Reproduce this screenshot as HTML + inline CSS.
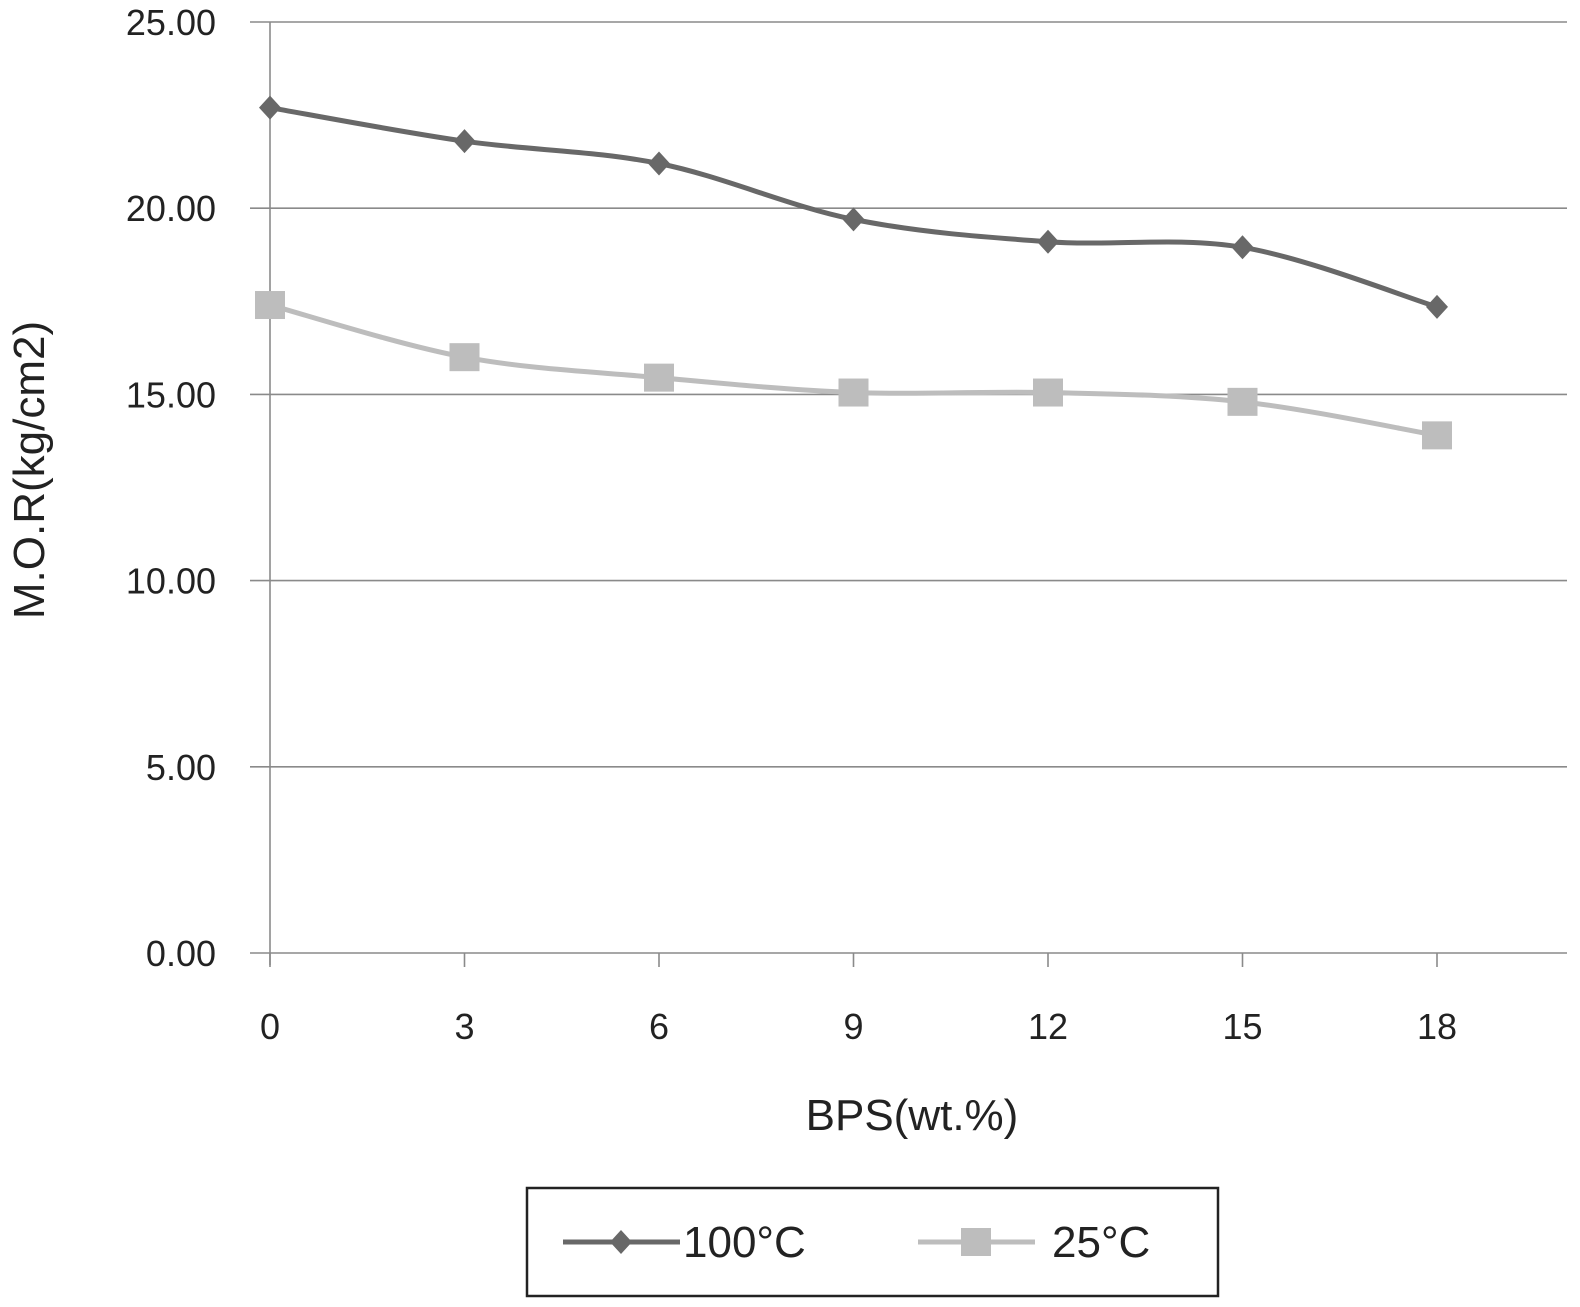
<!DOCTYPE html>
<html><head><meta charset="utf-8"><style>
body{margin:0;background:#fff;}
svg{display:block;font-family:"Liberation Sans",Arial,sans-serif;}
</style></head><body>
<svg id="chart" width="1580" height="1307" viewBox="0 0 1580 1307"></svg>
<script>
const categories=[0,3,6,9,12,15,18];
const series100=[22.7,21.8,21.2,19.7,19.1,18.95,17.35];
const series25=[17.4,16.0,15.45,15.05,15.05,14.8,13.9];
const yTicks=[0,5,10,15,20,25];
const yTickLabels=["0.00","5.00","10.00","15.00","20.00","25.00"];

const NS="http://www.w3.org/2000/svg";
const svg=document.getElementById('chart');
const X0=270,XSTEP=194.5,Y0=953,YTOP=22,YMAX=25,XRIGHT=1567;
const xs=i=>X0+i*XSTEP;
const ys=v=>Y0-(v/YMAX)*(Y0-YTOP);
function mk(t,a,p){const e=document.createElementNS(NS,t);for(const k in a)e.setAttribute(k,a[k]);(p||svg).appendChild(e);return e;}

const grid=mk('g',{});


yTicks.forEach((v,i)=>{
  const l=mk('line',{x1:250,x2:XRIGHT,y1:ys(v),y2:ys(v),stroke:'#8a8a8a','stroke-width':1.6},grid);
  
  
  const t=mk('text',{x:216,y:ys(v)+13,'text-anchor':'end','font-size':36,fill:'#222'});
  t.textContent=yTickLabels[i];
  
  
});
const ax=mk('line',{x1:270,x2:270,y1:YTOP,y2:Y0+12,stroke:'#8a8a8a','stroke-width':1.6});


categories.forEach((c,i)=>{
  const tk=mk('line',{x1:xs(i),x2:xs(i),y1:Y0,y2:Y0+14,stroke:'#8a8a8a','stroke-width':1.6});
  
  
  const t=mk('text',{x:xs(i),y:1039,'text-anchor':'middle','font-size':36,fill:'#222'});
  t.textContent=c;
  
  
});
const xt=mk('text',{x:912,y:1130,'text-anchor':'middle','font-size':44,fill:'#222'});
xt.textContent='BPS(wt.%)';


const yt=mk('text',{x:0,y:0,'text-anchor':'middle','font-size':44,fill:'#222',transform:'translate(44,470) rotate(-90)'});
yt.textContent='M.O.R(kg/cm2)';



function smooth(pts){
  let d='M'+pts[0][0]+','+pts[0][1];
  for(let i=0;i<pts.length-1;i++){
    const p0=pts[i-1]||pts[i],p1=pts[i],p2=pts[i+1],p3=pts[i+2]||p2,t=1/6;
    d+=' C'+(p1[0]+(p2[0]-p0[0])*t)+','+(p1[1]+(p2[1]-p0[1])*t)+' '+(p2[0]-(p3[0]-p1[0])*t)+','+(p2[1]-(p3[1]-p1[1])*t)+' '+p2[0]+','+p2[1];
  }
  return d;
}
function drawSeries(vals,color,shape,name){
  const g=mk('g',{});
  
  
  const pts=vals.map((v,i)=>[xs(i),ys(v)]);
  const p=mk('path',{d:smooth(pts),fill:'none',stroke:color,'stroke-width':5},g);
  
  
  pts.forEach(q=>{
    let m;
    if(shape==='d')m=mk('polygon',{points:`${q[0]},${q[1]-12} ${q[0]+11},${q[1]} ${q[0]},${q[1]+12} ${q[0]-11},${q[1]}`,fill:color},g);
    else m=mk('rect',{x:q[0]-15,y:q[1]-14,width:30,height:28,fill:color},g);
    
    
  });
}
drawSeries(series25,'#bdbdbd','s','series-25c');
drawSeries(series100,'#686868','d','series-100c');

const lg=mk('g',{});


mk('rect',{x:527,y:1188,width:691,height:108,fill:'#fff',stroke:'#222','stroke-width':2.5},lg);
mk('line',{x1:563,x2:680,y1:1242,y2:1242,stroke:'#686868','stroke-width':5},lg);
mk('polygon',{points:'621,1230 632,1242 621,1254 610,1242',fill:'#686868'},lg);
const l1=mk('text',{x:683,y:1257,'font-size':44,fill:'#222'},lg);l1.textContent='100°C';


mk('line',{x1:918,x2:1035,y1:1242,y2:1242,stroke:'#bdbdbd','stroke-width':5},lg);
mk('rect',{x:961,y:1228,width:30,height:28,fill:'#bdbdbd'},lg);
const l2=mk('text',{x:1052,y:1257,'font-size':44,fill:'#222'},lg);l2.textContent='25°C';


</script>
</body></html>
